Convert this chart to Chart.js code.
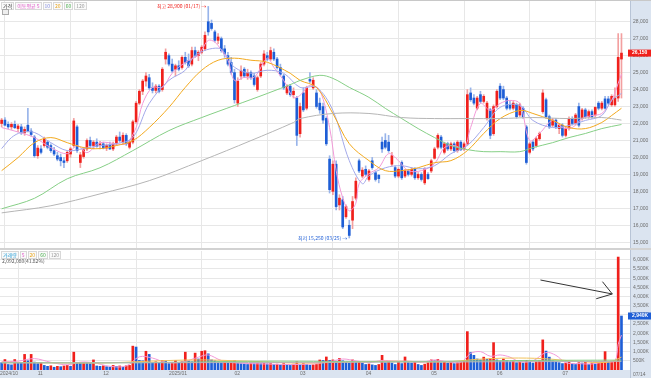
<!DOCTYPE html>
<html><head><meta charset="utf-8">
<script src="https://cdn.jsdelivr.net/npm/chart.js@4"></script>
<style>
html,body{margin:0;padding:0;background:#fff;}
#wrap{position:relative;width:651px;height:378px;overflow:hidden;font-family:"Noto Sans CJK KR","Noto Sans",sans-serif;}
canvas{position:absolute;left:0;}
.lg{position:absolute;font-size:5px;line-height:6px;white-space:nowrap;}
.lg span{display:inline-block;border:1px solid #d8d8d8;padding:0 1px;margin-right:1px;background:#fafafa;}
</style></head><body>
<div id="wrap">
<canvas id="pc" width="651" height="248" style="top:0"></canvas>
<div style="position:absolute;left:0;top:0;width:651px;height:1px;background:#c8c8c8"></div>
<div style="position:absolute;left:0;top:248px;width:651px;height:2px;background:#d2d2d2"></div>
<canvas id="vc" width="651" height="128" style="top:250px"></canvas>
<div class="lg" style="left:1px;top:2px;"><span style="color:#333">가격</span><span style="color:#e055c8">이동평균 5</span><span style="color:#7f8ae0">10</span><span style="color:#e8a317">20</span><span style="color:#4caf50">60</span><span style="color:#999">120</span></div>
<div style="position:absolute;left:2px;top:9px;width:5px;height:4px;border:1px solid #aaa;background:#eee"></div>
<div class="lg" style="left:1px;top:251px;"><span style="color:#2a9fd6">거래량</span><span style="color:#e055c8">5</span><span style="color:#e8a317">20</span><span style="color:#4caf50">60</span><span style="color:#999">120</span></div>
<div class="lg" style="left:2px;top:258px;color:#555">2,092,080(41.82%)</div>
</div>
<script>
// ---- data (prices in KRW, volume in thousands of shares) ----
const opens  = [22000,22200,21950,21800,21950,21700,21800,21450,21900,21550,21200,20100,20500,20700,20900,20700,20400,20100,20000,19800,19800,20200,20700,21800,19700,20050,20500,21000,20700,20900,20700,20800,20550,20750,20500,20800,21200,20900,21300,20600,20900,22100,23200,23900,24500,24700,24100,23950,24200,24000,25800,26000,25500,25200,25400,25300,25900,25700,25500,26300,26000,26200,26400,28000,27900,27400,26900,27000,26400,26000,25600,25000,23200,24800,25200,24800,25000,24800,24000,24800,25500,26000,25800,26200,25800,25300,24800,23800,24200,23700,23500,21400,23800,22900,24600,24100,23800,23200,23000,22300,19900,18000,19600,17200,17500,16500,16000,16300,17600,19800,18900,19300,18700,19800,19100,18950,20900,21000,20900,19600,19400,18900,19700,18900,19200,19000,19300,18800,19000,18500,19000,19200,19950,20600,21200,20300,20800,20500,20800,20400,20900,20500,20800,23800,23500,22900,23700,23300,22300,22800,21400,23000,24200,24000,23500,23100,22900,23100,22500,22900,21800,20300,20900,20700,21100,22700,23400,22400,21900,22200,21700,21900,21300,21700,22300,22000,23000,22300,22800,22400,22700,22500,23200,22900,23450,23450,23100,23100,23500,25800];
const highs  = [22300,22350,22100,22050,22150,21950,21950,21800,22900,21700,21300,20700,20700,21200,21000,20800,20600,20300,20200,20000,20400,20600,22300,21900,20300,20600,21100,21200,21000,21100,20950,20900,20800,20900,20900,21300,21500,21450,21400,21000,22200,23300,24000,24600,25000,24900,24400,24300,24300,25300,26400,26100,25800,25500,25700,26000,26200,26100,26500,26500,26300,26600,27400,28900,28100,27500,27300,27100,26600,26200,25900,25200,24700,25400,25300,25200,25100,24950,24800,25600,26300,26200,26500,26400,25900,25500,24900,24300,24300,24100,23600,23200,24100,24200,25000,24700,24000,23500,23200,22400,20100,19800,19800,17800,17700,17200,16300,17700,18800,19900,19400,19500,19300,20000,19200,19000,21200,21400,21300,20300,19500,19400,19800,19300,19300,19400,19400,19100,19100,19400,19100,19900,20600,21400,21300,20900,20900,20900,20900,21000,21000,20900,24000,24100,23700,23600,23900,23700,23300,22900,23100,24000,24350,24200,23600,23300,23300,23200,23200,23000,21900,20900,21000,21200,21500,24000,23500,22500,22300,22300,22000,22000,21800,22400,22400,22600,23200,22900,22900,22800,22800,23000,23300,23300,23600,23600,23700,24100,27300,27300];
const lows   = [21800,21850,21700,21650,21700,21500,21350,21300,21500,21250,20000,19950,20200,20600,20500,20300,20100,19800,19500,19400,19700,20000,20600,20300,19400,19950,20400,20600,20500,20600,20500,20500,20400,20450,20400,20700,20900,20800,20700,20500,20800,22000,23100,23700,24200,24000,23800,23800,23800,23900,25500,25400,25000,24800,25100,25200,25500,25300,25400,25900,25700,26100,26300,27200,27500,26800,26700,26200,25900,25400,24900,23200,23000,24600,24700,24600,24600,24200,23900,24700,25400,25700,25700,25700,25200,24800,24000,23700,23600,23500,20700,21200,22700,22800,24400,24000,22900,22600,22000,20700,17900,17800,16900,16900,15800,16400,15250,15800,17500,19100,18800,18900,18600,19300,18600,18500,20300,20500,20300,19500,18800,18800,18700,18800,18900,18900,18700,18700,18600,18400,18700,19100,19900,20500,20500,20200,20400,20400,20300,20300,20400,20400,20700,23300,23100,22800,23200,23200,22200,21100,21300,22900,23400,23400,22800,22800,22800,22300,22400,22300,19600,20200,20400,20600,21000,22600,22300,21700,21800,21700,21400,21200,21200,21600,21900,21900,21800,22200,22300,22300,22300,22400,22800,22800,22850,23100,23000,23000,23300,23500];
const closes = [22200,21900,21800,21950,21750,21850,21450,21650,21550,21350,20100,20550,20300,21100,20600,20400,20200,19900,19800,19700,20300,20500,22150,20400,20150,20450,21000,20700,20900,20650,20800,20550,20700,20500,20800,21200,21000,21300,20800,20900,22100,23200,23900,24500,24800,24100,23950,24200,23900,25200,26200,25500,25100,25400,25200,25900,25600,25400,26300,26000,26200,26500,27200,27400,27600,26900,27100,26300,26100,25500,25000,23400,24500,25100,24800,25000,24700,24300,24700,25500,26100,25800,26300,25800,25300,24900,24100,24200,23700,23900,21300,23000,22800,24100,24500,24550,23000,22800,22200,20800,18100,19600,17100,17600,15900,17100,15400,17400,18600,19200,19250,19000,19200,19400,18700,18750,20500,20600,20400,20100,18900,19300,18800,19200,19000,19300,18800,19000,18700,19300,18750,19800,20500,21300,20600,20800,20500,20800,20400,20900,20450,20800,23700,23400,23200,23500,23300,23600,23200,21300,23000,23900,23500,23500,22900,22900,23200,22400,23100,22400,19700,20800,20500,21100,21400,23800,22400,21800,22200,21800,21900,21300,21700,22300,22000,22500,21900,22800,22400,22700,22400,22950,22900,23200,22900,23200,23600,23500,25900,26150];
const volumes = [400,570,300,280,570,400,380,850,500,850,430,350,400,250,200,230,150,200,180,220,260,200,970,420,380,420,400,350,550,220,200,230,180,160,250,200,220,160,230,250,1300,1250,520,500,1020,850,400,450,380,520,500,350,420,520,380,450,970,500,450,920,600,1020,1050,880,550,500,450,420,480,400,450,500,380,350,330,300,380,350,450,350,400,330,350,300,320,280,350,300,250,320,450,300,350,300,260,280,300,545,520,710,520,550,480,630,500,420,380,550,420,450,380,300,330,280,250,300,800,400,450,380,300,450,350,710,400,380,420,300,250,320,400,550,500,580,400,450,380,420,350,400,450,500,2090,950,800,600,550,700,580,620,1490,550,480,600,520,450,480,400,430,380,520,420,380,450,500,1640,1030,700,500,450,400,350,380,420,350,300,400,380,420,300,380,320,400,450,1000,420,480,500,6150,2940];
// moving averages as [candle index, value]
const ma5   = [[0,21760],[5,21500],[10,21170],[15,20580],[20,20220],[23,20700],[26,20280],[30,20870],[35,20800],[38,20810],[41,21760],[43,23180],[46,24130],[49,24130],[52,24960],[56,25600],[60,26020],[61,26320],[63,26900],[65,26800],[67,26320],[69,25730],[71,24540],[74,24720],[77,24720],[81,25850],[83,25310],[86,24540],[89,23540],[91,23660],[94,24250],[97,23950],[100,21760],[102,19220],[104,17620],[106,16850],[108,17300],[109,18450],[112,19040],[115,19390],[118,20220],[121,19810],[124,19220],[128,19220],[132,19630],[135,20580],[138,20700],[141,20520],[143,21760],[146,23180],[149,22770],[152,23180],[155,23360],[158,23180],[161,20990],[164,21410],[168,22180],[171,21760],[174,21760],[177,22290],[180,22470],[183,22590],[186,23360],[188,24370],[189,24900]];
const ma10  = [[0,20520],[3,21170],[6,21470],[10,21470],[15,20870],[20,20400],[25,20520],[30,20700],[35,20810],[40,21170],[45,23180],[51,24540],[56,25140],[59,26020],[66,26440],[69,25900],[71,25310],[76,24960],[81,25140],[86,24960],[91,24130],[96,24130],[101,22770],[106,19810],[110,18450],[112,18920],[117,19390],[122,19510],[127,19330],[132,19510],[137,20220],[142,20700],[147,21760],[152,22950],[158,23060],[162,22180],[168,21760],[173,21880],[178,22180],[183,22470],[186,23360],[189,23770]];
const ma20  = [[0,19220],[5,19990],[10,20870],[15,21170],[20,20870],[25,20580],[30,20520],[35,20700],[40,20990],[45,21760],[51,22950],[56,24130],[61,25140],[66,25730],[71,25850],[76,25730],[81,25610],[88,24960],[91,24540],[96,24130],[101,22590],[106,20810],[112,19810],[117,19220],[122,19220],[127,19390],[132,19690],[137,19810],[142,20400],[147,21410],[152,22290],[158,22770],[162,22590],[168,22180],[173,21760],[178,21700],[183,22060],[186,22470],[189,22900]];
const ma60  = [[0,16970],[10,17590],[20,18740],[30,19390],[40,20400],[51,21580],[61,22350],[71,23060],[81,23770],[89,24370],[91,24540],[97,24840],[101,24660],[106,24130],[112,23540],[117,22890],[122,22290],[127,21700],[132,21170],[137,20700],[142,20460],[147,20340],[152,20340],[158,20340],[162,20580],[168,20870],[173,21170],[178,21410],[183,21700],[189,21940]];
const ma120 = [[0,16730],[15,17150],[30,17850],[45,18630],[61,19810],[76,20990],[89,22060],[91,22290],[101,22590],[112,22590],[122,22350],[132,22290],[142,22290],[152,22290],[162,22350],[173,22290],[183,22350],[189,22200]];
const vma5   = [[0,450],[5,480],[10,620],[15,420],[20,280],[24,430],[28,400],[33,200],[38,220],[42,720],[46,650],[50,420],[55,430],[60,700],[63,820],[67,520],[72,380],[80,330],[88,300],[95,330],[100,450],[104,600],[108,500],[112,400],[116,520],[120,480],[124,480],[128,420],[132,550],[136,450],[140,420],[143,900],[146,1000],[149,750],[152,820],[155,700],[158,450],[162,500],[166,950],[169,800],[172,400],[176,350],[180,330],[184,450],[187,500],[188,1400],[189,1900]];
const vma20  = [[0,420],[30,380],[45,480],[60,550],[75,480],[90,380],[105,430],[120,480],[135,440],[145,580],[155,650],[165,620],[175,480],[185,420],[189,700]];
const vma60  = [[0,400],[40,400],[80,480],[120,450],[160,520],[189,540]];
const vma120 = [[0,380],[60,400],[120,430],[189,470]];
// axis labels
const priceTicks = [15000,16000,17000,18000,19000,20000,21000,22000,23000,24000,25000,26000,27000,28000];
const volTicks   = [500,1000,1500,2000,2500,3000,3500,4000,4500,5000,5500,6000];
const monthIdx    = [-0.5, 11, 31, 51, 71, 91, 111, 131, 151, 171];
const monthLabels = ['2024/10','11','12','2025/01','02','03','04','05','06','07'];
const lastDate = '07/14';
const highNote = '최고 28,900 (01/17)';
const lowNote  = '최저 15,250 (03/25)';

// ---- styling ----
const RED='#f0201c', BLUE='#1e5ed6', RED_W='#f3a0a0', BLUE_W='#98b4ea';
const GRID='#e7e7e7', TICK='#6d6d6d', PANEL='#dbe4f0';
const fmt = v => Math.round(v).toLocaleString('en-US');
const up = i => closes[i] >= opens[i];
const XMIN=-0.5, XMAX=191.6;
const tickFont = {size:5, family:'"Liberation Sans", Arial, sans-serif'};

const panelBg = {
  id:'panelBg',
  beforeDraw(chart){
    const {ctx, chartArea:a, width, height} = chart;
    ctx.save();
    ctx.fillStyle = PANEL;
    ctx.fillRect(a.right, 0, width-a.right, height);
    if (chart.canvas.id==='vc') ctx.fillRect(0, a.bottom, width, height-a.bottom);
    ctx.strokeStyle='#b8c4d6'; ctx.lineWidth=1;
    ctx.beginPath(); ctx.moveTo(a.right+0.5,0); ctx.lineTo(a.right+0.5,height); ctx.stroke();
    ctx.restore();
  }
};
const line = (pts,color,w) => ({type:'line', data:pts.map(([x,y])=>({x,y})), borderColor:color, borderWidth:w||1, pointRadius:0, tension:0.35, order:0});

const xGrid = (labels) => ({
  type:'linear', min:XMIN, max:XMAX, offset:false,
  grid:{color:(c)=> c.tick && c.tick.value<0 ? 'rgba(0,0,0,0)' : GRID, drawTicks:false, lineWidth:1},
  border:{display:false},
  afterBuildTicks:(s)=>{ s.ticks = (labels? monthIdx : monthIdx.slice(1)).map(v=>({value:v})); },
  ticks: labels ? {display:true, font:tickFont, color:TICK, padding:1, align:'start', maxRotation:0, autoSkip:false,
      callback:(v)=>monthLabels[monthIdx.indexOf(v)]} : {display:false},
  afterFit:(s)=>{ s.height = labels ? 8 : 0; s.paddingLeft=0; s.paddingRight=0; }
});
const yAxis = (min,max,ticks,fmtFn) => ({
  position:'right', min, max,
  grid:{color:GRID, drawTicks:false}, border:{display:false},
  afterBuildTicks:(s)=>{ s.ticks = ticks.map(v=>({value:v})); },
  ticks:{font:tickFont, color:TICK, padding:3, autoSkip:false, callback:fmtFn},
  afterFit:(s)=>{ s.width=21; s.paddingTop=0; s.paddingBottom=0; }
});

// ---- price chart ----
const annot = {
  id:'annot',
  afterDatasetsDraw(chart){
    const {ctx, scales:{x,y}, chartArea:a, width} = chart;
    ctx.save();
    ctx.font = '5px "Noto Sans CJK KR", sans-serif';
    ctx.textBaseline='middle';
    const iH = highs.indexOf(Math.max(...highs));
    const iL = lows.indexOf(Math.min(...lows));
    ctx.fillStyle = RED; ctx.textAlign='right';
    ctx.fillText(highNote+' →', x.getPixelForValue(iH)-2, y.getPixelForValue(highs[iH]));
    ctx.fillStyle = BLUE;
    ctx.fillText(lowNote+' →', x.getPixelForValue(iL)-2, y.getPixelForValue(lows[iL]));
    const last = closes.length-1, yp = y.getPixelForValue(closes[last]);
    ctx.fillStyle = RED; ctx.fillRect(a.right-2, yp-3.5, width-a.right+2, 7);
    ctx.fillStyle='#fff'; ctx.textAlign='left'; ctx.font='bold 5px "Liberation Sans", Arial';
    ctx.fillText(fmt(closes[last]), a.right+2, yp);
    ctx.restore();
  }
};
new Chart(document.getElementById('pc'), {
  type:'bar',
  data:{datasets:[
    {data:closes.map((c,i)=>({x:i,y:[lows[i],highs[i]]})), backgroundColor:closes.map((c,i)=>up(i)?RED_W:BLUE_W), barThickness:1, grouped:false, order:3},
    {data:closes.map((c,i)=>({x:i,y:[opens[i],c]})), backgroundColor:closes.map((c,i)=>up(i)?RED:BLUE), barThickness:2, minBarLength:1, grouped:false, order:2},
    line(ma120,'#b5b5b5'), line(ma60,'#86cf86'), line(ma20,'#f2a91e'), line(ma10,'#a3a9ea'), line(ma5,'#f29ad8')
  ]},
  options:{
    responsive:false, animation:false, events:[],
    layout:{padding:{top:0,bottom:0,left:0,right:0}, autoPadding:false},
    plugins:{legend:{display:false}, tooltip:{enabled:false}},
    scales:{ x: xGrid(false), y: yAxis(14660, 29280, priceTicks, v=>fmt(v)) }
  },
  plugins:[panelBg, annot]
});

// ---- volume chart ----
const vAnnot = {
  id:'vAnnot',
  afterDatasetsDraw(chart){
    const {ctx, scales:{x,y}, chartArea:a, width} = chart;
    ctx.save();
    ctx.strokeStyle='#333'; ctx.lineWidth=1;
    const P=(i,v)=>[x.getPixelForValue(i), y.getPixelForValue(v)];
    const s=P(164.3,4900), t=P(186.2,4140), h1=P(183.2,4810), h2=P(181.3,3880);
    ctx.beginPath(); ctx.moveTo(...s); ctx.lineTo(...t); ctx.moveTo(...h1); ctx.lineTo(...t); ctx.lineTo(...h2); ctx.stroke();
    const last=volumes.length-1, yv=y.getPixelForValue(volumes[last]);
    ctx.fillStyle=BLUE; ctx.fillRect(a.right-2, yv-3.5, width-a.right+2, 7);
    ctx.fillStyle='#fff'; ctx.font='bold 5px "Liberation Sans", Arial'; ctx.textBaseline='middle'; ctx.textAlign='left';
    ctx.fillText(fmt(volumes[last])+'K', a.right+2, yv);
    ctx.fillStyle=TICK; ctx.font='5px "Liberation Sans", Arial';
    ctx.fillText(lastDate, a.right+3, a.bottom+4.5);
    ctx.restore();
  }
};
new Chart(document.getElementById('vc'), {
  type:'bar',
  data:{datasets:[
    {data:volumes.map((v,i)=>({x:i,y:v})), backgroundColor:volumes.map((v,i)=> i>0 && v>volumes[i-1] ? RED : BLUE), barThickness:2, grouped:false, order:2},
    line(vma120,'#b5b5b5'), line(vma60,'#86cf86'), line(vma20,'#f2c25a'), line(vma5,'#f29ad8')
  ]},
  options:{
    responsive:false, animation:false, events:[],
    layout:{padding:{top:1,bottom:0,left:0,right:0}, autoPadding:false},
    plugins:{legend:{display:false}, tooltip:{enabled:false}},
    scales:{ x: xGrid(true), y: yAxis(0, 6480, volTicks, v=>fmt(v)+'K') }
  },
  plugins:[panelBg, vAnnot]
});
</script>
</body></html>
